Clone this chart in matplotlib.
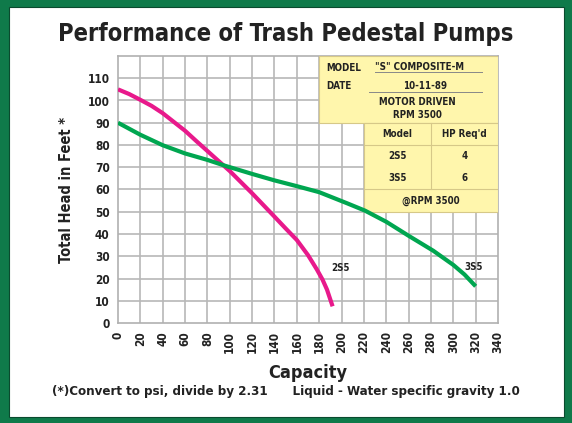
import numpy as np
import matplotlib.pyplot as plt
from matplotlib.patches import Rectangle

plt.rcParams["font.family"] = ["DejaVu Sans"]
plt.rcParams["font.stretch"] = "condensed"
plt.rcParams["font.weight"] = "bold"

# pump curves
cap_2s5 = [0, 10, 20, 30, 40, 60, 70, 80, 90, 100, 120, 140, 150, 160, 170, 178, 183, 187, 192]
head_2s5 = [105, 102.9, 100.3, 97.6, 94.3, 86.4, 81.8, 77.3, 72.8, 68.3, 58.3, 47.8, 42.5,
            37.3, 30.5, 24, 19.5, 15, 7.5]
cap_3s5 = [0, 20, 40, 60, 80, 95, 120, 140, 160, 180, 190, 205, 221, 240, 261, 282, 300, 310, 320]
head_3s5 = [90, 84.6, 79.9, 76.2, 73.3, 70.8, 67, 64.1, 61.5, 58.8, 56.8, 53.8, 50.5,
            45.5, 38.9, 32.5, 26.1, 21.8, 16.5]

x_ticks = list(range(0, 341, 20))
y_ticks = list(range(0, 111, 10))
hp_models = ["2S5", "3S5"]
hp_req = ["4", "6"]

GREEN = "#0f7a4a"
W, H = 572, 423
fig = plt.figure(figsize=(W / 100, H / 100), dpi=100, facecolor=GREEN)
fig.patches.append(Rectangle((9 / W, 6 / H), (564 - 9) / W, (416 - 6) / H,
                             transform=fig.transFigure, facecolor="white",
                             edgecolor="#0a4a2e", lw=0.8, zorder=-5))

ax = fig.add_axes([118 / W, 1 - 323 / H, (498 - 118) / W, (323 - 56) / H])
ax.set_zorder(2)
ax.set_xlim(0, 340)
ax.set_ylim(0, 120)
ax.set_xticks(x_ticks)
ax.set_yticks(y_ticks)
ax.set_xticklabels([str(v) for v in x_ticks], rotation=90, fontsize=8.5, fontweight="bold", color="#222")
ax.set_yticklabels([str(v) for v in y_ticks], fontsize=8.5, fontweight="bold", color="#222")
ax.tick_params(length=0, pad=6)
for v in range(20, 340, 20):
    ax.axvline(v, color="#b8b8b8", lw=1.2, zorder=1)
for v in range(10, 120, 10):
    ax.axhline(v, color="#b8b8b8", lw=1.2, zorder=1)
for s in ax.spines.values():
    s.set_color("#b0b0b0")
    s.set_linewidth(1.2)

# info box
yel = "#fff6ac"
edge = "#d6c888"
ax.add_patch(Rectangle((180, 90), 160, 30, facecolor=yel, edgecolor=edge, lw=0.8, zorder=3))
ax.add_patch(Rectangle((220, 50), 120, 40, facecolor=yel, edgecolor=edge, lw=0.8, zorder=3))
ax.plot([220, 340], [80, 80], color=edge, lw=0.8, zorder=4)
ax.plot([220, 340], [60, 60], color=edge, lw=0.8, zorder=4)
ax.plot([280, 280], [60, 90], color=edge, lw=0.8, zorder=4)
ax.plot([230, 326], [112.6, 112.6], color="#888", lw=0.7, zorder=4)
ax.plot([225, 326], [103.6, 103.6], color="#888", lw=0.7, zorder=4)

tk = dict(fontsize=7, fontweight="bold", color="#222", zorder=5, va="center")
ax.text(186, 114.5, "MODEL", ha="left", **tk)
ax.text(270, 115, '"S" COMPOSITE-M', ha="center", **tk)
ax.text(186, 106.3, "DATE", ha="left", **tk)
ax.text(275, 106.5, "10-11-89", ha="center", **tk)
ax.text(268, 99.5, "MOTOR DRIVEN", ha="center", **tk)
ax.text(268, 93.3, "RPM 3500", ha="center", **tk)
ax.text(250, 85, "Model", ha="center", **tk)
ax.text(310, 85, "HP Req'd", ha="center", **tk)
for i, (m, hp) in enumerate(zip(hp_models, hp_req)):
    ax.text(250, 75 - 10 * i, m, ha="center", **tk)
    ax.text(310, 75 - 10 * i, hp, ha="center", **tk)
ax.text(280, 55, "@RPM 3500", ha="center", **tk)

ax.plot(cap_2s5, head_2s5, color="#e8198b", lw=3, solid_capstyle="butt",
        solid_joinstyle="round", zorder=6)
ax.plot(cap_3s5, head_3s5, color="#00a650", lw=3, solid_capstyle="butt",
        solid_joinstyle="round", zorder=6)
ax.text(199, 24.7, "2S5", ha="center", **tk)
ax.text(318, 25, "3S5", ha="center", **tk)

ax.set_xlabel("Capacity", fontsize=13, fontweight="bold", color="#222", labelpad=8)
ax.set_ylabel("Total Head in Feet *", fontsize=10.5, fontweight="bold", color="#222", labelpad=10)

fig.text(0.5, 1 - 34 / H, "Performance of Trash Pedestal Pumps", ha="center", va="center",
         fontsize=17, fontweight="bold", color="#222")
fig.text(0.5, 1 - 391 / H,
         "(*)Convert to psi, divide by 2.31      Liquid - Water specific gravity 1.0",
         ha="center", va="center", fontsize=9.5, fontweight="bold", color="#222")

fig.savefig("out.png", dpi=100, facecolor=GREEN)
